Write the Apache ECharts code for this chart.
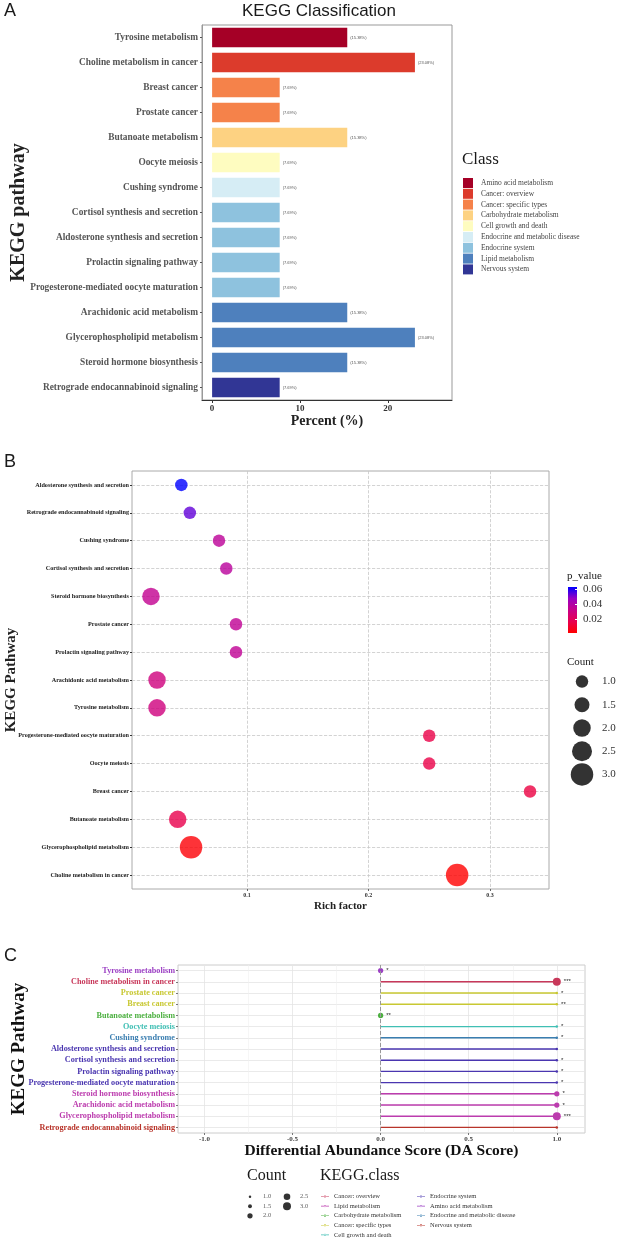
<!DOCTYPE html>
<html lang="en">
<head>
<meta charset="UTF-8">
<title>KEGG pathway figure</title>
<script src="https://cdn.jsdelivr.net/npm/echarts@6.0.0/dist/echarts.min.js"></script>
<style>
  body { margin: 0; padding: 0; background: #fff; }
  .panel { position: absolute; left: 0; top: 0; width: 623px; height: 1242px; }
</style>
</head>
<body>
<div id="chartA" class="panel"></div>
<div id="chartB" class="panel"></div>
<div id="chartC" class="panel"></div>
<script>
  // ---- panel A: KEGG classification bars
  var pathwaysA = ['Tyrosine metabolism', 'Choline metabolism in cancer', 'Breast cancer', 'Prostate cancer',
    'Butanoate metabolism', 'Oocyte meiosis', 'Cushing syndrome', 'Cortisol synthesis and secretion',
    'Aldosterone synthesis and secretion', 'Prolactin signaling pathway', 'Progesterone-mediated oocyte maturation',
    'Arachidonic acid metabolism', 'Glycerophospholipid metabolism', 'Steroid hormone biosynthesis',
    'Retrograde endocannabinoid signaling'];
  var percentA = [15.38, 23.08, 7.69, 7.69, 15.38, 7.69, 7.69, 7.69, 7.69, 7.69, 7.69, 15.38, 23.08, 15.38, 7.69];
  var classA = ['Amino acid metabolism', 'Cancer: overview', 'Cancer: specific types', 'Cancer: specific types',
    'Carbohydrate metabolism', 'Cell growth and death', 'Endocrine and metabolic disease', 'Endocrine system',
    'Endocrine system', 'Endocrine system', 'Endocrine system', 'Lipid metabolism', 'Lipid metabolism',
    'Lipid metabolism', 'Nervous system'];
  var classNamesA = ['Amino acid metabolism', 'Cancer: overview', 'Cancer: specific types', 'Carbohydrate metabolism',
    'Cell growth and death', 'Endocrine and metabolic disease', 'Endocrine system', 'Lipid metabolism', 'Nervous system'];
  var classColorsA = ['#a50026', '#dc3b2c', '#f5824a', '#fdd282', '#fefcc0', '#d6edf5', '#8ec2de', '#4e80bd', '#313695'];
  var ticksA = [0, 10, 20];

  // ---- panel B: rich factor bubbles
  var pathwaysB = ['Aldosterone synthesis and secretion', 'Retrograde endocannabinoid signaling', 'Cushing syndrome',
    'Cortisol synthesis and secretion', 'Steroid hormone biosynthesis', 'Prostate cancer', 'Prolactin signaling pathway',
    'Arachidonic acid metabolism', 'Tyrosine metabolism', 'Progesterone-mediated oocyte maturation', 'Oocyte meiosis',
    'Breast cancer', 'Butanoate metabolism', 'Glycerophospholipid metabolism', 'Choline metabolism in cancer'];
  var richB = [0.046, 0.053, 0.077, 0.083, 0.021, 0.091, 0.091, 0.026, 0.026, 0.25, 0.25, 0.333, 0.043, 0.054, 0.273];
  var countB = [1, 1, 1, 1, 2, 1, 1, 2, 2, 1, 1, 1, 2, 3, 3];
  var pB = [0.0627, 0.053, 0.036, 0.037, 0.034, 0.035, 0.035, 0.029, 0.029, 0.015, 0.015, 0.014, 0.016, 0.0025, 0.0013];
  var ticksB = [0.1, 0.2, 0.3];
  var pTicks = [0.02, 0.04, 0.06];
  var pColors = ['#ff0000', '#e7004f', '#c80088', '#9900c2', '#0000ff'];
  var sizeLegendB = [1.0, 1.5, 2.0, 2.5, 3.0];

  // ---- panel C: DA score lollipops
  var pathwaysC = ['Tyrosine metabolism', 'Choline metabolism in cancer', 'Prostate cancer', 'Breast cancer',
    'Butanoate metabolism', 'Oocyte meiosis', 'Cushing syndrome', 'Aldosterone synthesis and secretion',
    'Cortisol synthesis and secretion', 'Prolactin signaling pathway', 'Progesterone-mediated oocyte maturation',
    'Steroid hormone biosynthesis', 'Arachidonic acid metabolism', 'Glycerophospholipid metabolism',
    'Retrograde endocannabinoid signaling'];
  var daScoreC = [0, 1, 1, 1, 0, 1, 1, 1, 1, 1, 1, 1, 1, 1, 1];
  var countC = [2, 3, 1, 1, 2, 1, 1, 1, 1, 1, 1, 2, 2, 3, 1];
  var starsC = ['*', '***', '*', '**', '**', '*', '*', '', '*', '*', '*', '*', '*', '***', ''];
  var classC = ['Amino acid metabolism', 'Cancer: overview', 'Cancer: specific types', 'Cancer: specific types',
    'Carbohydrate metabolism', 'Cell growth and death', 'Endocrine and metabolic disease', 'Endocrine system',
    'Endocrine system', 'Endocrine system', 'Endocrine system', 'Lipid metabolism', 'Lipid metabolism',
    'Lipid metabolism', 'Nervous system'];
  var classNamesC = ['Cancer: overview', 'Lipid metabolism', 'Carbohydrate metabolism', 'Cancer: specific types',
    'Cell growth and death', 'Endocrine system', 'Amino acid metabolism', 'Endocrine and metabolic disease', 'Nervous system'];
  var classColorsC = ['#c8385a', '#bc3cae', '#4cb040', '#c8c832', '#40bfb4', '#4a36b0', '#9c40c4', '#3a7eb0', '#b8342a'];
  var ticksC = [-1, -0.5, 0, 0.5, 1];
  var minorTicksC = [-0.75, -0.25, 0.25, 0.75];
  var sizeLegendC = [1.0, 1.5, 2.0, 2.5, 3.0];

  var serif = "'Liberation Serif', 'DejaVu Serif', serif";
  var sans = "'Liberation Sans', Arial, sans-serif";

  function rowIndex(list) {
    return list.map(function (d, i) { return i; });
  }
  function heading(text, left, top, size, family) {
    return { text: text, left: left, top: top, padding: 0,
      textStyle: { fontFamily: family, fontSize: size, fontWeight: 'normal', color: '#1a1a1a' } };
  }

  // ================= A =================
  var chartA = echarts.init(document.getElementById('chartA'));
  var seriesA = classNamesA.map(function (cls, k) {
    return {
      name: cls,
      type: 'bar',
      stack: 'pct',
      barWidth: '78%',
      itemStyle: { color: classColorsA[k] },
      label: {
        show: true, position: 'right', distance: 3,
        fontSize: 4, color: '#555', fontFamily: sans,
        formatter: function (p) { return '(' + p.value.toFixed(2) + '%)'; }
      },
      data: percentA.map(function (v, i) { return classA[i] === cls ? v : '-'; })
    };
  });
  chartA.setOption({
    animation: false,
    title: [
      heading('A', 4, 2, 18, sans),
      heading('KEGG Classification', 242, 3, 17, sans),
      heading('Class', 462, 151, 17, serif)
    ],
    legend: {
      data: classNamesA, orient: 'vertical', left: 463, top: 178, padding: 0,
      itemWidth: 10, itemHeight: 10, itemGap: 0.8, icon: 'rect', selectedMode: false,
      textStyle: { fontFamily: serif, fontSize: 7.5, color: '#444', padding: [0, 0, 0, 3] }
    },
    grid: { left: 202, top: 25, width: 250, height: 375, show: true, borderColor: '#999', borderWidth: 1, outerBoundsMode: 'none' },
    xAxis: {
      type: 'value', min: -1.15, max: 27.3,
      name: 'Percent (%)', nameLocation: 'middle', nameGap: 14, nameMoveOverlap: false,
      nameTextStyle: { fontFamily: serif, fontWeight: 'bold', fontSize: 14, color: '#222' },
      axisLine: { show: true, onZero: false, lineStyle: { color: '#333' } },
      axisTick: { show: true, length: 3, customValues: ticksA, lineStyle: { color: '#333' } },
      axisLabel: { customValues: ticksA, fontFamily: serif, fontWeight: 'bold', fontSize: 9, color: '#333', margin: 4 },
      splitLine: { show: false }
    },
    yAxis: {
      type: 'category', inverse: true, data: pathwaysA,
      name: 'KEGG pathway', nameLocation: 'middle', nameRotate: 90, nameGap: 173, nameMoveOverlap: false,
      nameTextStyle: { fontFamily: serif, fontWeight: 'bold', fontSize: 20, color: '#222' },
      axisLine: { show: true, onZero: false, lineStyle: { color: '#999' } },
      axisTick: { show: true, length: 2, alignWithLabel: true, lineStyle: { color: '#555' } },
      axisLabel: { fontFamily: serif, fontWeight: 'bold', fontSize: 9.4, color: '#555', margin: 4 }
    },
    series: seriesA
  });

  // ================= B =================
  var chartB = echarts.init(document.getElementById('chartB'));
  var pMin = 0.0013, pMax = 0.0627;
  function sizeB(c) { return 7.5 + 5 * c; }
  var barStops = pColors.slice().reverse().map(function (c, i, arr) {
    return { offset: i / (arr.length - 1), color: c };
  });
  chartB.setOption({
    animation: false,
    title: [
      heading('B', 4, 453, 18, sans),
      heading('p_value', 567, 571, 11, serif),
      heading('Count', 567, 657, 11, serif)
    ],
    grid: [
      { left: 132, top: 471, width: 417, height: 418, show: true, borderColor: '#aaa', borderWidth: 1, outerBoundsMode: 'none' },
      { left: 568, top: 587, width: 9, height: 46, show: true, borderWidth: 0,
        backgroundColor: new echarts.graphic.LinearGradient(0, 0, 0, 1, barStops), outerBoundsMode: 'none' },
      { left: 572, top: 670, width: 20, height: 116, outerBoundsMode: 'none' }
    ],
    xAxis: [
      {
        gridIndex: 0, type: 'value', min: 0.0054, max: 0.3486,
        name: 'Rich factor', nameLocation: 'middle', nameGap: 12, nameMoveOverlap: false,
        nameTextStyle: { fontFamily: serif, fontWeight: 'bold', fontSize: 11, color: '#222' },
        axisLine: { show: false, onZero: false },
        axisTick: { show: true, length: 2, customValues: ticksB, lineStyle: { color: '#666' } },
        axisLabel: { customValues: ticksB, fontFamily: serif, fontWeight: 'bold', fontSize: 6, color: '#333', margin: 3 },
        splitLine: { show: true, lineStyle: { color: '#c8c8c8', type: 'dashed', width: 0.8 } }
      },
      { gridIndex: 1, type: 'value', show: false },
      { gridIndex: 2, type: 'category', data: ['c'], show: false }
    ],
    yAxis: [
      {
        gridIndex: 0, type: 'category', inverse: true, data: pathwaysB,
        name: 'KEGG Pathway', nameLocation: 'middle', nameRotate: 90, nameGap: 113, nameMoveOverlap: false,
        nameTextStyle: { fontFamily: serif, fontWeight: 'bold', fontSize: 15, color: '#222' },
        axisLine: { show: false, onZero: false },
        axisTick: { show: true, length: 2, alignWithLabel: true, lineStyle: { color: '#333' } },
        axisLabel: { fontFamily: serif, fontWeight: 'bold', fontSize: 6.2, color: '#222', margin: 3 },
        splitLine: { show: false }
      },
      {
        gridIndex: 0, type: 'value', inverse: true, min: -0.5, max: pathwaysB.length - 0.5,
        axisLine: { show: false, onZero: false }, axisLabel: { show: false },
        axisTick: { show: false, customValues: rowIndex(pathwaysB) },
        splitLine: { show: true, lineStyle: { color: '#c8c8c8', type: 'dashed', width: 0.8 } }
      },
      {
        gridIndex: 1, type: 'value', min: pMin, max: pMax, position: 'right',
        axisLine: { show: false, onZero: false }, splitLine: { show: false },
        axisTick: { show: true, inside: true, length: 2, customValues: pTicks, lineStyle: { color: '#fff' } },
        axisLabel: { customValues: pTicks, fontFamily: serif, fontSize: 11, color: '#333', margin: 6,
          formatter: function (v) { return v.toFixed(2); } }
      },
      {
        gridIndex: 2, type: 'category', inverse: true, position: 'right',
        data: sizeLegendB.map(function (c) { return c.toFixed(1); }),
        axisLine: { show: false, onZero: false }, axisTick: { show: false },
        axisLabel: { fontFamily: serif, fontSize: 11, color: '#333', margin: 10 }
      }
    ],
    visualMap: {
      show: false, seriesIndex: 0, dimension: 3, min: pMin, max: pMax,
      inRange: { color: pColors }
    },
    series: [
      {
        type: 'scatter', xAxisIndex: 0, yAxisIndex: 0,
        data: pathwaysB.map(function (n, i) { return [richB[i], i, countB[i], pB[i]]; }),
        symbolSize: function (v) { return sizeB(v[2]); }
      },
      { type: 'scatter', xAxisIndex: 1, yAxisIndex: 2, data: [] },
      {
        type: 'scatter', xAxisIndex: 2, yAxisIndex: 3,
        data: sizeLegendB.map(function (c, i) { return [0, i, c]; }),
        symbolSize: function (v) { return sizeB(v[2]); },
        itemStyle: { color: '#000' }
      }
    ]
  });

  // ================= C =================
  var chartC = echarts.init(document.getElementById('chartC'));
  function sizeC(c) { return 2.5 + 2.75 * (c - 1); }
  function colorC(i) { return classColorsC[classNamesC.indexOf(classC[i])]; }
  var lineDotIcon = 'path://M0,2.6L10,2.6L10,3.4L0,3.4Z M3.6,3a1.4,1.4 0 1,0 2.8,0a1.4,1.4 0 1,0 -2.8,0Z';
  var legendTextC = { fontFamily: serif, fontSize: 6.5, color: '#333' };

  var seriesC = classNamesC.map(function (cls, k) {
    return {
      name: cls, type: 'bar', stack: 'seg', barWidth: 1.4,
      xAxisIndex: 0, yAxisIndex: 0,
      itemStyle: { color: classColorsC[k] },
      data: daScoreC.map(function (v, i) { return classC[i] === cls ? v : '-'; })
    };
  });
  seriesC.push({
    name: 'points', type: 'scatter', xAxisIndex: 0, yAxisIndex: 0,
    data: daScoreC.map(function (v, i) { return [v, i, countC[i]]; }),
    symbolSize: function (v) { return sizeC(v[2]); },
    itemStyle: { color: function (p) { return colorC(p.dataIndex); }, opacity: 1 },
    label: {
      show: true, position: 'right', distance: 3, fontSize: 6, color: '#222', fontFamily: sans,
      formatter: function (p) { return starsC[p.dataIndex]; }
    },
    markLine: {
      silent: true, symbol: 'none', label: { show: false },
      lineStyle: { color: '#999', type: 'dashed', width: 1 },
      data: [{ xAxis: 0 }]
    },
    z: 3
  });
  seriesC.push({
    name: 'count legend', type: 'scatter', xAxisIndex: 2, yAxisIndex: 2,
    data: sizeLegendC.map(function (c, i) { return [Math.floor(i / 3), i % 3, c]; }),
    symbolSize: function (v) { return sizeC(v[2]); },
    itemStyle: { color: '#000' },
    label: {
      show: true, position: 'inside', align: 'left', offset: [13, 0],
      fontFamily: serif, fontSize: 6.5, color: '#333',
      formatter: function (p) { return p.value[2].toFixed(1); }
    }
  });

  chartC.setOption({
    animation: false,
    title: [
      heading('C', 4, 947, 18, sans),
      heading('Count', 247, 1168, 16, serif),
      heading('KEGG.class', 320, 1168, 16, serif)
    ],
    legend: [
      { data: classNamesC.slice(0, 5), orient: 'vertical', left: 321, top: 1193, height: 80, padding: 0,
        itemWidth: 8, itemHeight: 3, itemGap: 2.6, icon: lineDotIcon, selectedMode: false, textStyle: legendTextC },
      { data: classNamesC.slice(5), orient: 'vertical', left: 417, top: 1193, height: 80, padding: 0,
        itemWidth: 8, itemHeight: 3, itemGap: 2.6, icon: lineDotIcon, selectedMode: false, textStyle: legendTextC }
    ],
    grid: [
      { left: 178, top: 965, width: 407, height: 168, show: true, borderColor: '#ccc', borderWidth: 1, outerBoundsMode: 'none' },
      { left: 231.5, top: 1192, width: 74, height: 28.5, outerBoundsMode: 'none' }
    ],
    xAxis: [
      {
        gridIndex: 0, type: 'value', min: -1.15, max: 1.16,
        name: 'Differential Abundance Score (DA Score)', nameLocation: 'middle', nameGap: 10, nameMoveOverlap: false,
        nameTextStyle: { fontFamily: serif, fontWeight: 'bold', fontSize: 15.5, color: '#111' },
        axisLine: { show: false, onZero: false },
        axisTick: { show: true, length: 2, customValues: ticksC, lineStyle: { color: '#777' } },
        axisLabel: { customValues: ticksC, fontFamily: serif, fontWeight: 'bold', fontSize: 7, color: '#444', margin: 3,
          formatter: function (v) { return v.toFixed(1); } },
        splitLine: { show: true, lineStyle: { color: '#e4e4e4', width: 0.8 } }
      },
      {
        gridIndex: 0, type: 'value', min: -1.15, max: 1.16,
        axisLine: { show: false, onZero: false }, axisLabel: { show: false },
        axisTick: { show: false, customValues: minorTicksC },
        splitLine: { show: true, lineStyle: { color: '#f0f0f0', width: 0.6 } }
      },
      { gridIndex: 1, type: 'category', data: ['a', 'b'], show: false }
    ],
    yAxis: [
      {
        gridIndex: 0, type: 'category', inverse: true, data: pathwaysC,
        name: 'KEGG Pathway', nameLocation: 'middle', nameRotate: 90, nameGap: 149, nameMoveOverlap: false,
        nameTextStyle: { fontFamily: serif, fontWeight: 'bold', fontSize: 19, color: '#111' },
        axisLine: { show: false, onZero: false },
        axisTick: { show: true, length: 2, alignWithLabel: true, lineStyle: { color: '#777' } },
        axisLabel: { fontFamily: serif, fontWeight: 'bold', fontSize: 8.2, margin: 3,
          color: function (v, i) { return colorC(i); } },
        splitLine: { show: false }
      },
      {
        gridIndex: 0, type: 'value', inverse: true, min: -0.5, max: pathwaysC.length - 0.5,
        axisLine: { show: false, onZero: false }, axisLabel: { show: false },
        axisTick: { show: false, customValues: rowIndex(pathwaysC) },
        splitLine: { show: true, lineStyle: { color: '#e4e4e4', width: 0.8 } }
      },
      { gridIndex: 1, type: 'category', inverse: true, data: ['r1', 'r2', 'r3'], show: false }
    ],
    series: seriesC
  });
</script>
</body>
</html>
